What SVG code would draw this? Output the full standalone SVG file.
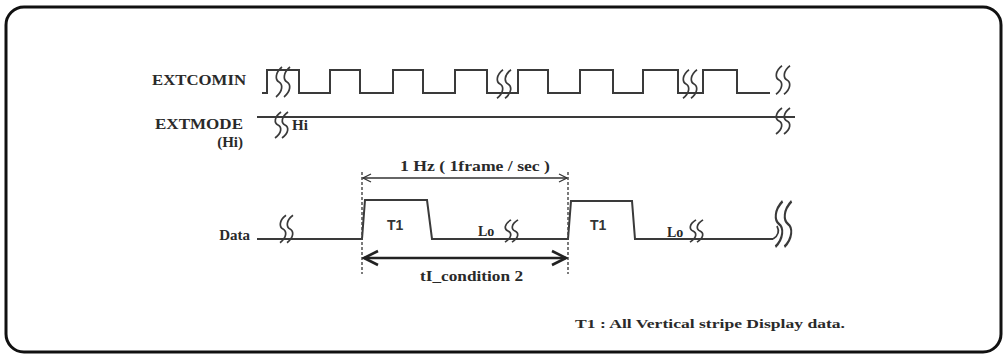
<svg xmlns="http://www.w3.org/2000/svg" xmlns:xlink="http://www.w3.org/1999/xlink" width="1006" height="356" viewBox="0 0 1006 356">
<style>
.frame{fill:#fff;stroke:#111;stroke-width:3}
.w{fill:none;stroke:#3a3a3a;stroke-width:2;stroke-linejoin:miter}
.brk{fill:none;stroke:#3a3a3a;stroke-width:1.7}
.dash{fill:none;stroke:#444;stroke-width:1.4;stroke-dasharray:3 2}
.lbl{font-family:"Liberation Serif",serif;font-weight:bold;fill:#2a2a2a}
.t1{font-family:"Liberation Sans",sans-serif;font-weight:bold;fill:#333}
</style>
<defs>
<path id="brk" class="brk" d="M3,-13 C-4,-8 -4,-2 0,0 C4,2 4,8 -3,13"/>
<marker id="ah" viewBox="-10 -6 12 12" refX="0" refY="0" markerWidth="12" markerHeight="12" markerUnits="userSpaceOnUse" orient="auto-start-reverse">
<path d="M-8,-4 L0,0 L-8,4" fill="none" stroke="#333" stroke-width="1.3"/>
</marker>
<marker id="ahb" viewBox="-17 -9 19 18" refX="0" refY="0" markerWidth="19" markerHeight="18" markerUnits="userSpaceOnUse" orient="auto-start-reverse">
<path d="M-14,-7 L0,0 L-14,7" fill="none" stroke="#222" stroke-width="2.6"/>
</marker>
</defs>
<rect class="frame" x="6" y="7" width="995" height="345" rx="18"/>

<g id="extcomin">
<text class="lbl" x="246" y="85" font-size="15" text-anchor="end" textLength="94" lengthAdjust="spacingAndGlyphs">EXTCOMIN</text>
<path class="w" d="M262,93 H267 V70 H299 V93 H330 V70 H360 V93 H393 V70 H423 V93 H455 V70 H487 V93 H518 V70 H548 V93 H580 V70 H613 V93 H643 V70 H678 V93 H703 V70 H737 V93 H770"/>
<g transform="translate(279,82) scale(1,1.15)"><use xlink:href="#brk"/></g>
<g transform="translate(287,82) scale(1,1.15)"><use xlink:href="#brk"/></g>
<g transform="translate(500,84) scale(1,1.1)"><use xlink:href="#brk"/></g>
<g transform="translate(508,84) scale(1,1.1)"><use xlink:href="#brk"/></g>
<g transform="translate(686,84) scale(1,1.1)"><use xlink:href="#brk"/></g>
<g transform="translate(694,84) scale(1,1.1)"><use xlink:href="#brk"/></g>
<g transform="translate(779,80) scale(1,1.1)"><use xlink:href="#brk"/></g>
<g transform="translate(787,80) scale(1,1.1)"><use xlink:href="#brk"/></g>
</g>

<g id="extmode">
<text class="lbl" x="243" y="129" font-size="15" text-anchor="end" textLength="88" lengthAdjust="spacingAndGlyphs">EXTMODE</text>
<text class="lbl" x="243" y="147" font-size="15" text-anchor="end">(Hi)</text>
<path class="w" d="M257,117 H795"/>
<g transform="translate(278,125)"><use xlink:href="#brk"/></g>
<g transform="translate(285,125)"><use xlink:href="#brk"/></g>
<g transform="translate(779,121)"><use xlink:href="#brk"/></g>
<g transform="translate(787,121)"><use xlink:href="#brk"/></g>
<text class="lbl" x="292" y="130" font-size="15">Hi</text>
</g>

<g id="data">
<text class="lbl" x="250" y="240" font-size="15" text-anchor="end">Data</text>
<path class="w" d="M257,239 H362 L365,200 H427 L432,239 H568 L571,201 H632 L635,239 H773"/>
<g transform="translate(283,229) scale(1,1.05)"><use xlink:href="#brk"/></g>
<g transform="translate(290,229) scale(1,1.05)"><use xlink:href="#brk"/></g>
<g transform="translate(508,231) scale(1,0.85)"><use xlink:href="#brk"/></g>
<g transform="translate(515,231) scale(1,0.85)"><use xlink:href="#brk"/></g>
<g transform="translate(693,231) scale(1,0.85)"><use xlink:href="#brk"/></g>
<g transform="translate(700,231) scale(1,0.85)"><use xlink:href="#brk"/></g>
<path class="brk" d="M773,239 C778,236 780,232 777,226"/>
<g transform="translate(779,224) scale(1.2,1.75)"><use xlink:href="#brk"/></g>
<g transform="translate(788,224) scale(1.2,1.75)"><use xlink:href="#brk"/></g>
<text class="t1" x="387" y="230" font-size="14">T1</text>
<text class="t1" x="590" y="230" font-size="14">T1</text>
<text class="lbl" x="478" y="236" font-size="14">Lo</text>
<text class="lbl" x="667" y="237" font-size="14">Lo</text>
</g>

<g id="connectors">
<path class="dash" d="M362,172 V274"/>
<path class="dash" d="M568,172 V274"/>
<path d="M363,178 H567" fill="none" stroke="#333" stroke-width="1.3" marker-start="url(#ah)" marker-end="url(#ah)"/>
<path d="M364,258 H566" fill="none" stroke="#222" stroke-width="2.6" marker-start="url(#ahb)" marker-end="url(#ahb)"/>
</g>

<g id="labels">
<text class="lbl" x="400" y="171" font-size="14" textLength="150" lengthAdjust="spacingAndGlyphs">1 Hz ( 1frame / sec )</text>
<text class="lbl" x="420" y="281" font-size="14" textLength="103" lengthAdjust="spacingAndGlyphs">tI_condition 2</text>
<text class="lbl" x="575" y="328" font-size="13" textLength="270" lengthAdjust="spacingAndGlyphs">T1 : All Vertical stripe Display data.</text>
</g>
</svg>
